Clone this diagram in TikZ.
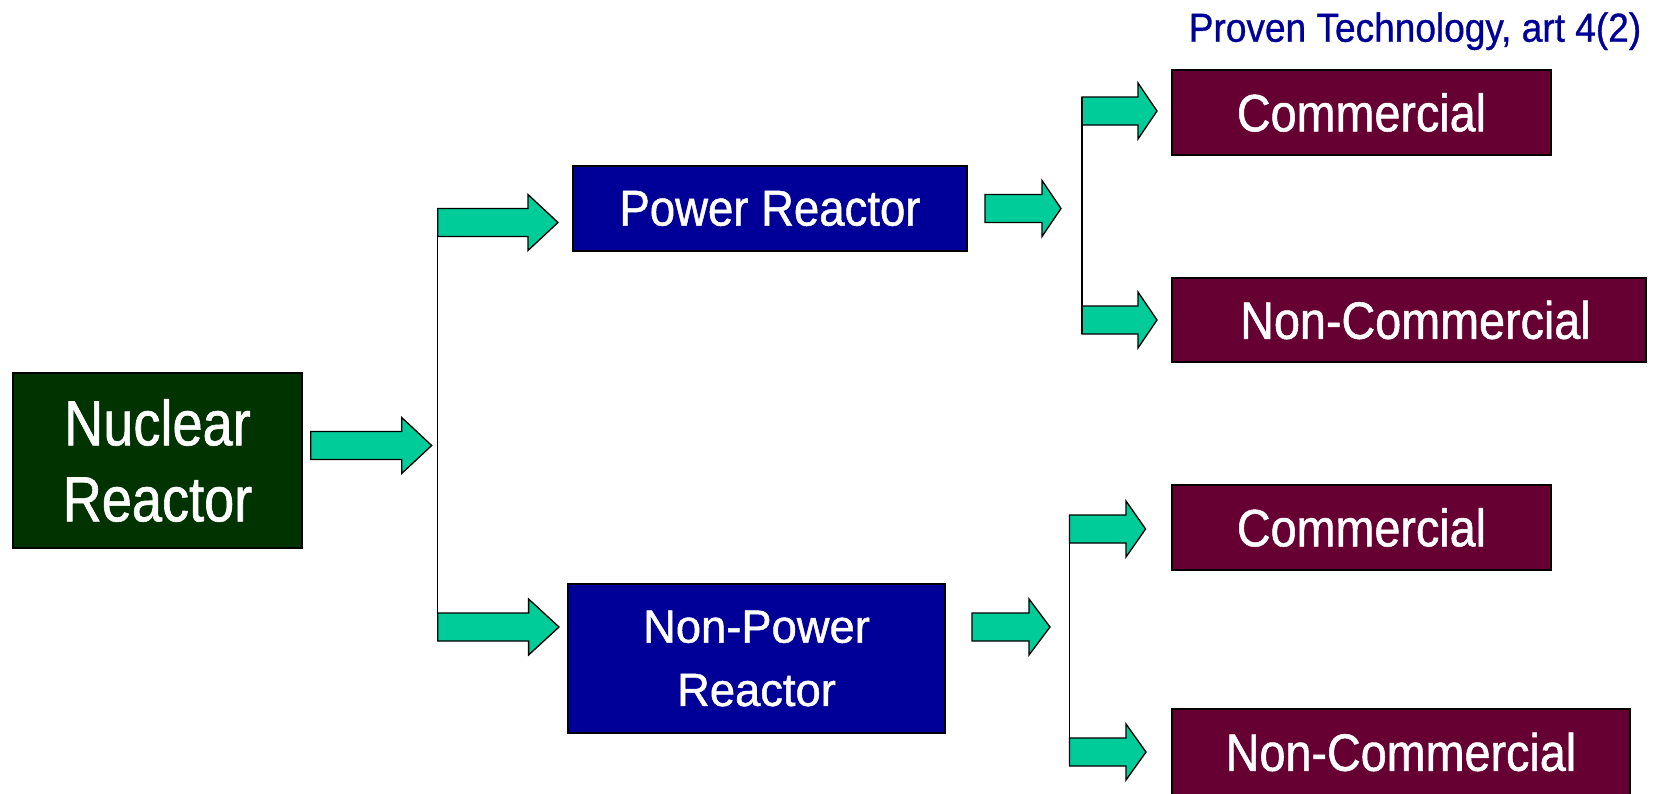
\documentclass[tikz,border=0pt]{standalone}
\usepackage{fontspec}
\setmainfont{Liberation Sans}
\newfontfamily\fnuc[FakeStretch=0.85,FakeBold=1]{Liberation Sans}
\newfontfamily\fpow[FakeStretch=0.905,FakeBold=1]{Liberation Sans}
\newfontfamily\fnp[FakeStretch=0.975,FakeBold=1]{Liberation Sans}
\newfontfamily\fcom[FakeStretch=0.89,FakeBold=1]{Liberation Sans}
\newfontfamily\fttl[FakeStretch=0.915,FakeBold=0.8]{Liberation Sans}
\definecolor{arrowfill}{HTML}{00CC99}
\definecolor{nucgreen}{HTML}{003300}
\definecolor{powblue}{HTML}{000099}
\definecolor{commaroon}{HTML}{660033}
\definecolor{titleblue}{HTML}{000099}
\newcommand{\blockarrow}[4]{%
  \draw[arrowsty] (#1,#2-14) -- (#3,#2-14) -- (#3,#2-28) -- (#4,#2) -- (#3,#2+28) -- (#3,#2+14) -- (#1,#2+14) -- cycle;}
\begin{document}
\begin{tikzpicture}[x=1pt,y=-1pt,
  box/.style={draw=black, line width=1.5pt, inner sep=0pt, text=white, align=center},
  arrowsty/.style={draw=black, fill=arrowfill, line width=1.3pt, line join=miter},
  branch/.style={draw=black, line width=1.5pt},
  comfont/.style={font={\fcom\fontsize{52.5}{62}\selectfont}}]
\fill[white] (0,0) rectangle (1662,793);
\clip (0,0) rectangle (1662,793);

% title
\node[text=titleblue, inner sep=0pt, anchor=base, font={\fttl\fontsize{40.5}{48}\selectfont}] (title) at (1415,41.7)
  {Proven Technology, art 4(2)};

% boxes
\node[box, fill=nucgreen, minimum width=289, minimum height=175,
  font={\fnuc\fontsize{63.7}{76}\selectfont}] (nuc) at (157.5,460.5)
  {Nuclear\\Reactor};
\node[box, fill=powblue, minimum width=394, minimum height=85,
  font={\fpow\fontsize{50.3}{60}\selectfont}] (pow) at (770,208.5)
  {Power Reactor};
\node[box, fill=powblue, minimum width=377, minimum height=149,
  font={\fnp\fontsize{46.5}{63.3}\selectfont}] (npow) at (756.5,658.5)
  {Non-Power\\Reactor};
\node[box, comfont, fill=commaroon, minimum width=379, minimum height=85] (com1) at (1361.5,112.5)
  {Commercial};
\node[box, comfont, fill=commaroon, minimum width=474, minimum height=84] (ncom1) at (1409,320)
  {\hspace*{13pt}Non-Commercial};
\node[box, comfont, fill=commaroon, minimum width=379, minimum height=85] (com2) at (1361.5,527.5)
  {Commercial};
\node[box, comfont, fill=commaroon, minimum width=458, minimum height=86] (ncom2) at (1401,752)
  {Non-Commercial};

% branch junction points
\coordinate (ja) at (437.7,208.5);
\coordinate (jb) at (437.7,641);
\coordinate (jc) at (1082,97);
\coordinate (jd) at (1082,334);
\coordinate (je) at (1069.5,515);
\coordinate (jf) at (1069.5,766);

% block arrows
\blockarrow{310.7}{445.5}{401.7}{431.7}
\blockarrow{437.7}{222.5}{528}{558}
\blockarrow{437.7}{627}{528.6}{559}
\blockarrow{985}{208.5}{1042}{1061}
\blockarrow{1082}{111}{1138}{1157}
\blockarrow{1082}{320}{1138}{1157}
\blockarrow{972}{627}{1029}{1050}
\blockarrow{1069.5}{529}{1126}{1145.6}
\blockarrow{1069.5}{752}{1126}{1146}

% branch lines
\draw[branch] (ja) -- (jb);
\draw[branch] (jc) -- (jd);
\draw[branch] (je) -- (jf);
\end{tikzpicture}
\end{document}
